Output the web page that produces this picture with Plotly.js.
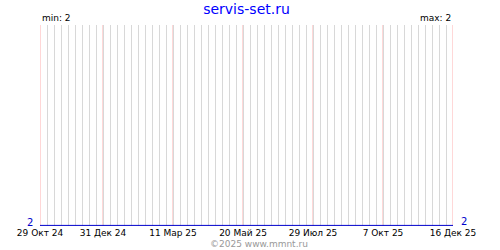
<!DOCTYPE html>
<html><head><meta charset="utf-8">
<script src="https://cdn.plot.ly/plotly-3.0.1.min.js"></script>
<style>html,body{margin:0;padding:0;background:#fff}#chart{width:500px;height:250px}</style>
</head><body><div id="chart"></div>
<script>
const siteName = 'servis-set.ru';
const dates = ['2024-10-29', '2025-12-16'];
const values = [2, 2];
const tickDates = ['2024-10-29', '2024-12-31', '2025-03-11', '2025-05-20', '2025-07-29', '2025-10-07', '2025-12-16'];
const tickLabels = ['29 Окт 24', '31 Дек 24', '11 Мар 25', '20 Май 25', '29 Июл 25', '7 Окт 25', '16 Дек 25'];
const copyright = '©2025 www.mmnt.ru';

const vMin = Math.min(...values), vMax = Math.max(...values);
const F = 'DejaVu Sans, Verdana, sans-serif';

const trace = {
  x: dates, y: values, type: 'scatter', mode: 'lines',
  line: {color: '#0000cc', width: 1}, hoverinfo: 'skip'
};

const majorLines = tickDates.map(d => ({
  type: 'line', xref: 'x', yref: 'paper', x0: d, x1: d, y0: 0, y1: 1,
  line: {color: '#ffb0b0', width: 1}, layer: 'between'
}));

const layout = {
  width: 500, height: 250,
  margin: {l: 40, r: 47, t: 25, b: 24},
  paper_bgcolor: '#fff', plot_bgcolor: '#fff',
  showlegend: false,
  title: {text: siteName, font: {family: F, size: 14, color: '#0000ff'}, x: 0.5, xanchor: 'center', y: 0.965, yanchor: 'middle', xref: 'paper', yref: 'container'},
  xaxis: {
    type: 'date', range: [tickDates[0], tickDates[tickDates.length - 1]],
    tickmode: 'array', tickvals: tickDates, ticktext: tickLabels,
    showgrid: false,
    zeroline: false, showline: false, ticks: '',
    tickfont: {family: F, size: 9, color: '#000'},
    minor: {tickmode: 'linear', tick0: tickDates[0], dtick: 7 * 86400000, showgrid: true, gridcolor: '#d8d8d8', gridwidth: 1, ticks: ''}
  },
  yaxis: {
    range: [1.997, 3], showgrid: false, zeroline: false, showline: false,
    showticklabels: false, ticks: ''
  },
  shapes: majorLines,
  annotations: [
    {text: 'min: ' + vMin, xref: 'paper', yref: 'paper', x: 0, y: 1, xanchor: 'left', yanchor: 'bottom', yshift: 0, showarrow: false, font: {family: F, size: 9, color: '#000'}},
    {text: 'max: ' + vMax, xref: 'paper', yref: 'paper', x: 1, y: 1, xanchor: 'right', yanchor: 'bottom', yshift: 0, showarrow: false, font: {family: F, size: 9, color: '#000'}},
    {text: String(values[0]), xref: 'paper', yref: 'y', x: 0, y: values[0], xanchor: 'right', yanchor: 'middle', xshift: -5, yshift: 3, showarrow: false, font: {family: F, size: 10, color: '#0000cc'}},
    {text: String(values[values.length - 1]), xref: 'paper', yref: 'y', x: 1, y: values[values.length - 1], xanchor: 'left', yanchor: 'middle', xshift: 6, yshift: 4, showarrow: false, font: {family: F, size: 10, color: '#0000cc'}},
    {text: copyright, xref: 'paper', yref: 'paper', x: 0.5, y: 0, xanchor: 'center', yanchor: 'middle', xshift: 12, yshift: -18, showarrow: false, font: {family: F, size: 9, color: '#999'}}
  ]
};

Plotly.newPlot('chart', [trace], layout, {staticPlot: true, displayModeBar: false});
</script></body></html>
